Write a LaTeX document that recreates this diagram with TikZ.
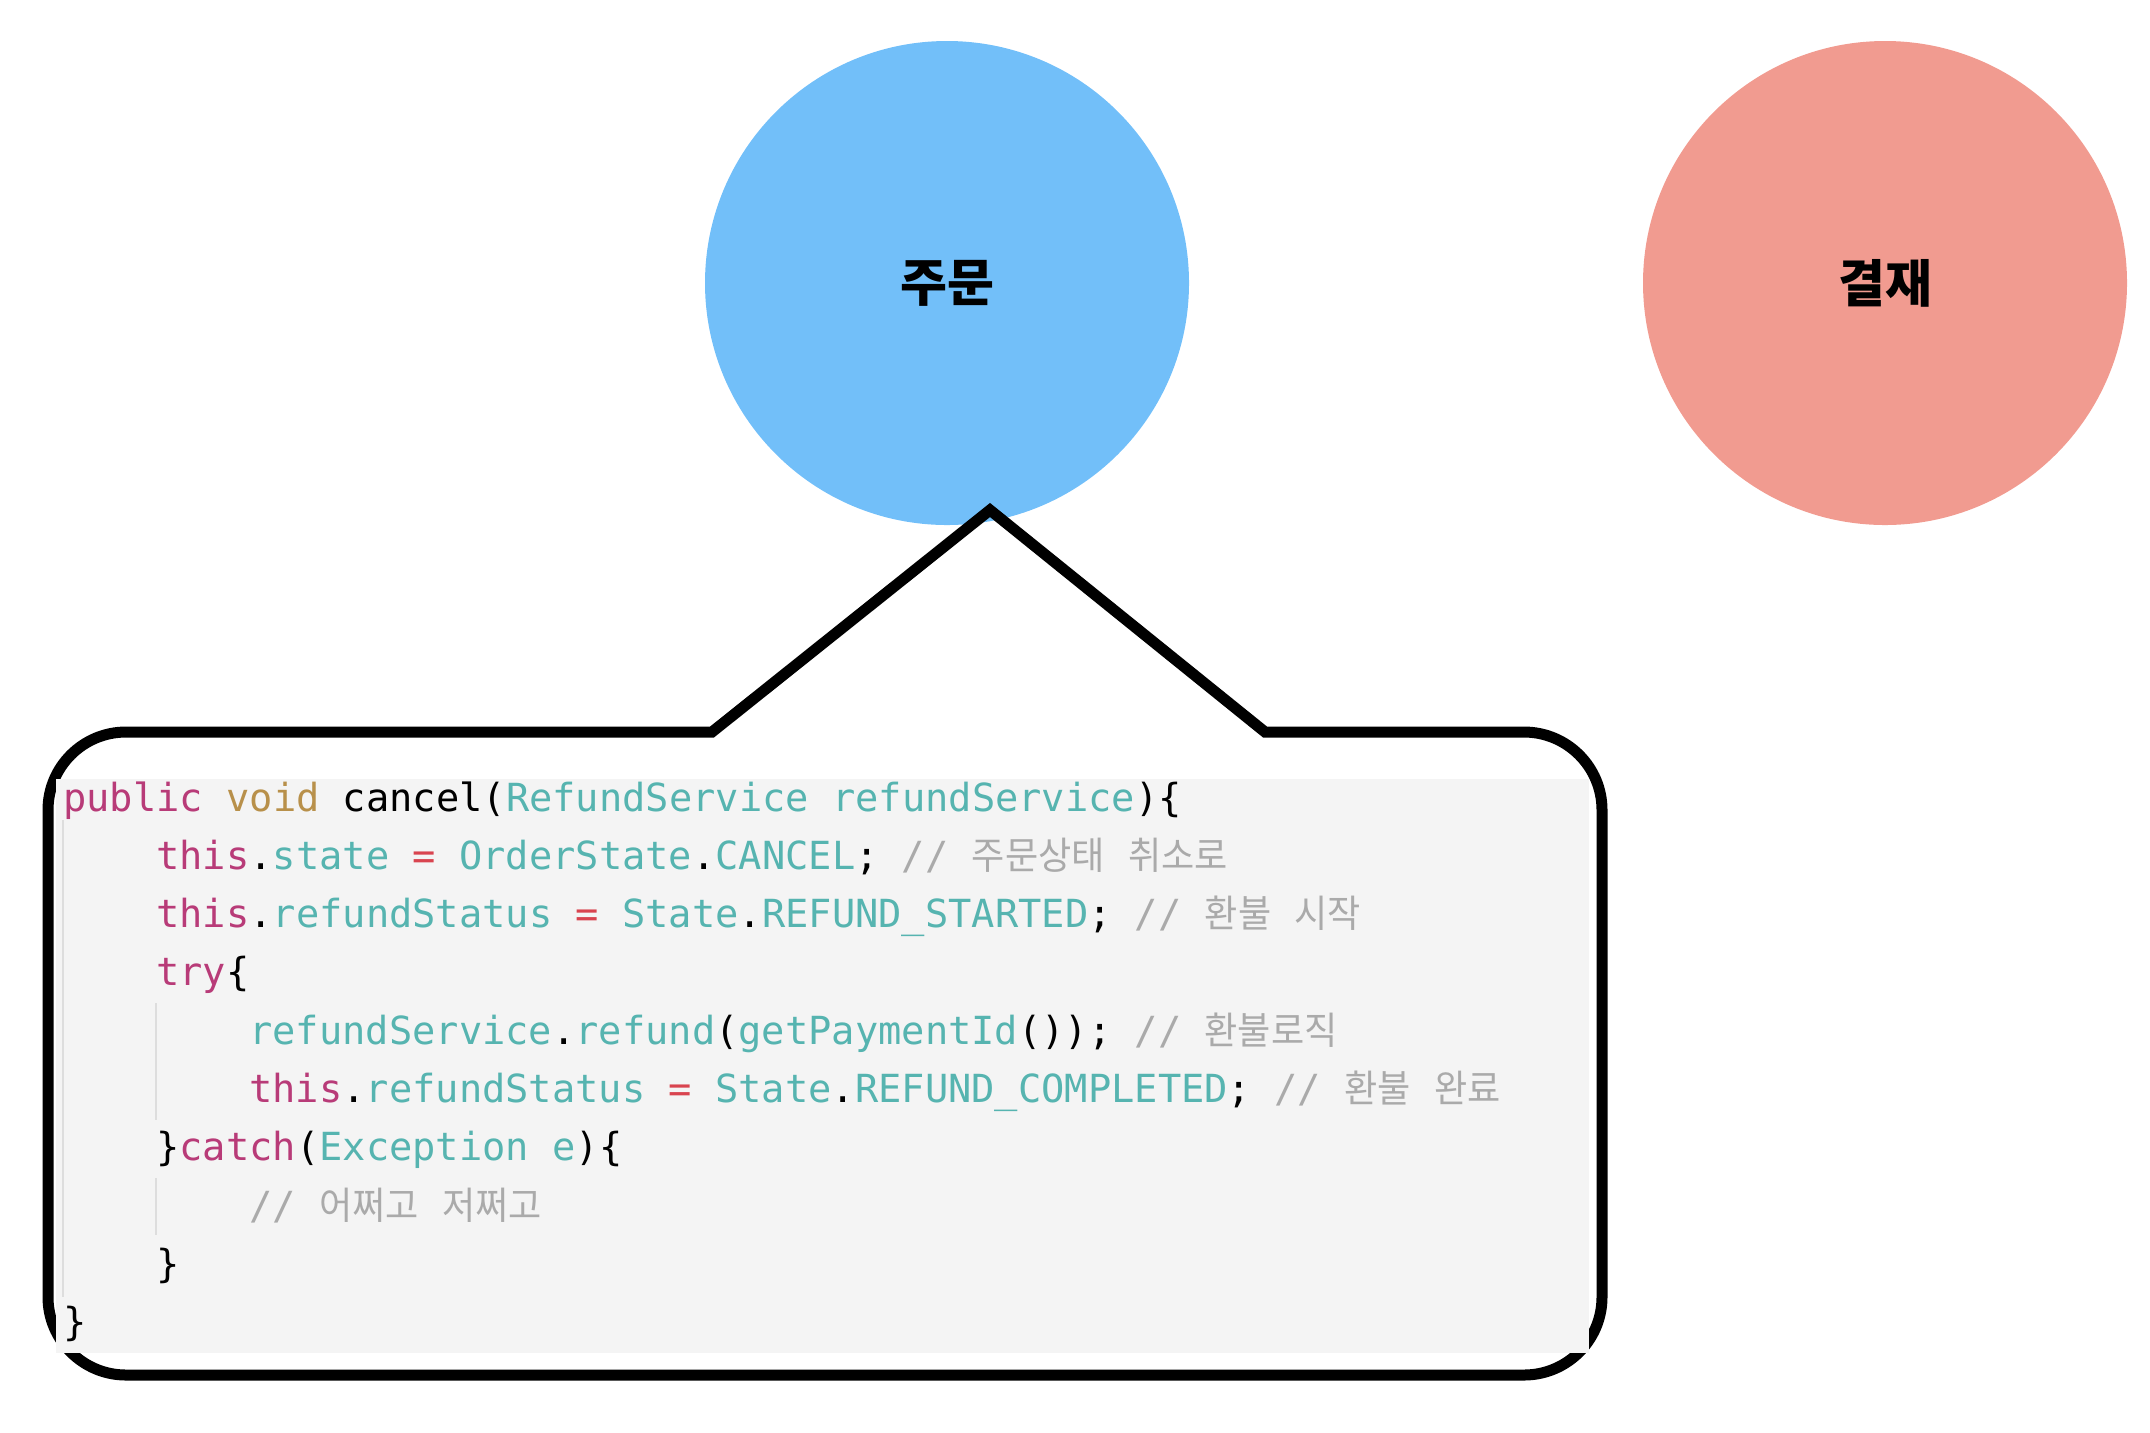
\documentclass[tikz,border=0pt]{standalone}
\usepackage{fontspec}
\setmonofont{DejaVu Sans Mono}
\newfontfamily\krcode{Noto Sans CJK KR}[FakeStretch=0.95]
\newfontfamily\krlabel{Noto Sans CJK KR}
\definecolor{bluec}{RGB}{114,191,249}
\definecolor{redc}{RGB}{241,155,144}
\definecolor{kwcol}{RGB}{184,59,120}
\definecolor{tycol}{RGB}{184,144,74}
\definecolor{tlcol}{RGB}{86,180,176}
\definecolor{eqcol}{RGB}{217,68,79}
\definecolor{cmcol}{RGB}{170,170,170}
\definecolor{bgcol}{RGB}{244,244,244}
\definecolor{guidecol}{RGB}{221,221,221}
\newcommand\ckw[1]{\textcolor{kwcol}{#1}}
\newcommand\cty[1]{\textcolor{tycol}{#1}}
\newcommand\ctl[1]{\textcolor{tlcol}{#1}}
\newcommand\ceq[1]{\textcolor{eqcol}{#1}}
\newcommand\ccm[1]{\textcolor{cmcol}{#1}}
\newcommand\ckr[1]{{\krcode\fontsize{19}{22}\selectfont #1}}
\begin{document}
\begin{tikzpicture}[x=0.5pt,y=0.5pt,
  bubble/.style={circle,inner sep=0pt,minimum size=242pt,draw=none},
  circlabel/.style={font=\krlabel\bfseries\fontsize{25.5}{30}\selectfont,text=black},
  codeline/.style={anchor=base west,inner sep=0pt,font=\ttfamily\fontsize{19.35}{23}\selectfont,text=black},
  guide/.style={draw=guidecol,line width=0.8pt}]
\useasboundingbox (0,0) rectangle (2150,-1432);
% circles
\node[bubble,fill=bluec] (order) at (947,-283) {};
\node[circlabel] (orderlbl) at (order.center) {주문};
\node[bubble,fill=redc] (pay) at (1885,-283) {};
\node[circlabel] (paylbl) at (pay.center) {결재};
% callout
\coordinate (apex) at (990,-510);
\draw[line width=5.5pt,line join=miter]
  (712,-732) -- (apex) -- (1265,-732) -- (1524,-732)
  arc[start angle=90,end angle=0,radius=78] -- (1602,-1297)
  arc[start angle=0,end angle=-90,radius=78] -- (126,-1375)
  arc[start angle=270,end angle=180,radius=78] -- (48,-810)
  arc[start angle=180,end angle=90,radius=78] -- cycle;
\fill[bgcol] (56,-779) rectangle (1589,-1353);
% guides
\draw[guide] (63,-820) -- (63,-1297);
\draw[guide] (156,-1003) -- (156,-1120);
\draw[guide] (156,-1178) -- (156,-1235);
% code
\node[codeline] (l1) at (63,-811) {\ckw{public} \cty{void} cancel(\ctl{RefundService refundService})\{};
\node[codeline] (l2) at (156,-869.3) {\ckw{this}.\ctl{state} \ceq{=} \ctl{OrderState}.\ctl{CANCEL}; \ccm{// \ckr{주문상태} \ckr{취소로}}};
\node[codeline] (l3) at (156,-927.6) {\ckw{this}.\ctl{refundStatus} \ceq{=} \ctl{State}.\ctl{REFUND\_STARTED}; \ccm{// \ckr{환불} \ckr{시작}}};
\node[codeline] (l4) at (156,-985.9) {\ckw{try}\{};
\node[codeline] (l5) at (249,-1044.2) {\ctl{refundService}.\ctl{refund}(\ctl{getPaymentId}()); \ccm{// \ckr{환불로직}}};
\node[codeline] (l6) at (249,-1102.5) {\ckw{this}.\ctl{refundStatus} \ceq{=} \ctl{State}.\ctl{REFUND\_COMPLETED}; \ccm{// \ckr{환불} \ckr{완료}}};
\node[codeline] (l7) at (156,-1160.8) {\}\ckw{catch}(\ctl{Exception e})\{};
\node[codeline] (l8) at (249,-1219.1) {\ccm{// \ckr{어쩌고} \ckr{저쩌고}}};
\node[codeline] (l9) at (156,-1277.4) {\}};
\node[codeline] (l10) at (63,-1335.7) {\}};
\end{tikzpicture}
\end{document}
